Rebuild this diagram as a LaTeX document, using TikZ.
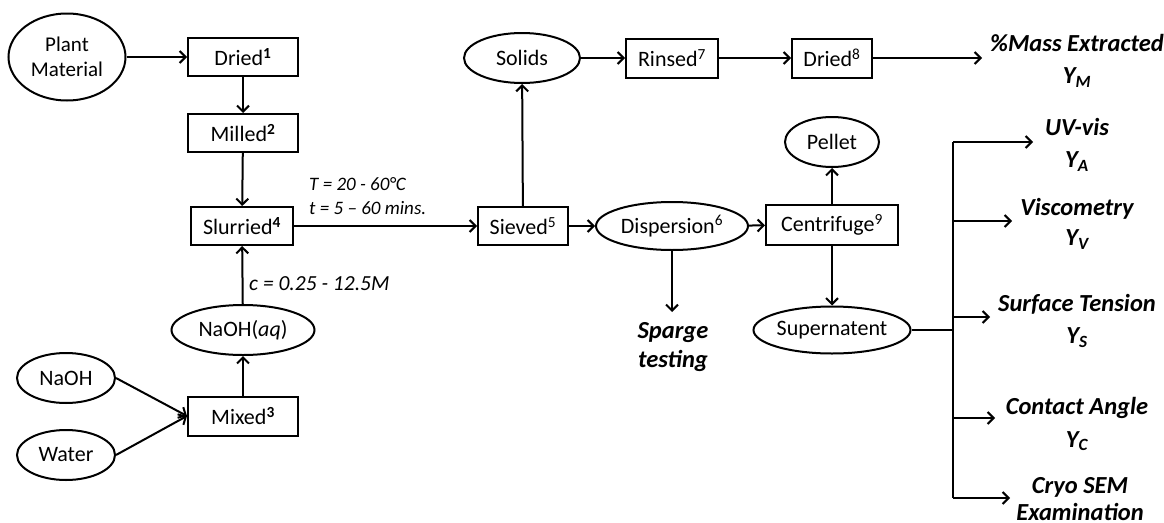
\documentclass[tikz,border=0pt]{standalone}
\usepackage{fontspec}
\setmainfont{Carlito}
\usetikzlibrary{shapes.geometric,arrows.meta}
\begin{document}
\begin{tikzpicture}[x=1pt,y=-1pt,
 every node/.style={font=\fontsize{22}{25}\selectfont, inner sep=0pt, align=center},
 box/.style={draw, line width=2pt, rectangle, minimum height=38pt},
 ell/.style={draw, line width=2pt, ellipse},
 flow/.style={line width=2pt, -{Straight Barb[length=6pt,width=12pt,line width=2pt]}},
 plain/.style={line width=2pt},
 res/.style={font=\fontsize{24.5}{32}\selectfont\bfseries\itshape},
 cond/.style={font=\fontsize{19}{24}\selectfont\itshape, anchor=west, align=left}]
\useasboundingbox (0,0) rectangle (1164,522);
% nodes
\node[ell, minimum width=117pt, minimum height=87pt, font=\fontsize{21}{25}\selectfont] (plant) at (67,57) {Plant\\Material};
\node[box, minimum width=110pt] (dried1) at (243,57) {Dried\textsuperscript{\textbf{1}}};
\node[box, minimum width=110pt] (milled) at (243,133) {Milled\textsuperscript{\textbf{2}}};
\node[box, minimum width=102pt] (slurried) at (242,226) {Slurried\textsuperscript{\textbf{4}}};
\node[ell, minimum width=143pt, minimum height=50pt] (naohaq) at (243,330) {NaOH(\textit{aq})};
\node[ell, minimum width=98pt, minimum height=50pt] (naoh) at (66,378) {NaOH};
\node[ell, minimum width=98pt, minimum height=50pt] (water) at (66,455) {Water};
\node[box, minimum width=110pt, minimum height=39pt] (mixed) at (243,416) {Mixed\textsuperscript{\textbf{3}}};
\node[ell, minimum width=116pt, minimum height=50pt] (solids) at (522,58) {Solids};
\node[box, minimum width=92pt, minimum height=39pt] (rinsed) at (672,58) {Rinsed\textsuperscript{7}};
\node[box, minimum width=80pt, minimum height=39pt] (dried8) at (832,58) {Dried\textsuperscript{8}};
\node[box, minimum width=90pt] (sieved) at (523,226) {Sieved\textsuperscript{5}};
\node[ell, minimum width=152pt, minimum height=48pt] (disp) at (672,226) {Dispersion\textsuperscript{6}};
\node[box, minimum width=132pt, minimum height=40pt] (centri) at (832,225) {Centrifuge\textsuperscript{9}};
\node[ell, minimum width=94pt, minimum height=50pt] (pellet) at (832,142) {Pellet};
\node[ell, minimum width=157pt, minimum height=47pt] (super) at (832,330) {Supernatent};
% results
\node[res] (mass) at (1077,61) {\%Mass Extracted\\Y\textsubscript{M}};
\node[res] (uv) at (1077,145) {UV-vis\\Y\textsubscript{A}};
\node[res, font=\fontsize{24.5}{30}\selectfont\bfseries\itshape] (visc) at (1077,224) {Viscometry\\Y\textsubscript{V}};
\node[res] (surf) at (1077,321) {Surface Tension\\Y\textsubscript{S}};
\node[res, font=\fontsize{24.5}{33}\selectfont\bfseries\itshape] (cont) at (1077,424) {Contact Angle\\Y\textsubscript{C}};
\node[res, font=\fontsize{24.5}{27}\selectfont\bfseries\itshape] (cryo) at (1080,499) {Cryo SEM\\Examination};
\node[res, font=\fontsize{24.5}{29}\selectfont\bfseries\itshape] (sparge) at (673,347) {Sparge\\testing};
% conditions
\node[cond] (tcond) at (309,196) {T = 20 - 60°C\\t = 5 -- 60 mins.};
\node[cond, font=\fontsize{21.5}{24}\selectfont\itshape] (ccond) at (249,284) {c = 0.25 - 12.5M};
% coordinates
\coordinate (massend) at (982,58);
\coordinate (spargeend) at (672,312);
\coordinate (bus) at (953,330);
\coordinate (btop) at (953,142);
\coordinate (bbot) at (953,498);
\coordinate (uvend) at (1033,142);
\coordinate (viscend) at (1012,221);
\coordinate (surfend) at (990,317);
\coordinate (contend) at (995,418);
\coordinate (cryoend) at (1010,498);
\coordinate (bv) at (953,221);
\coordinate (bs) at (953,317);
\coordinate (bc) at (953,418);
% connectors
\draw[flow] (plant) -- (dried1);
\draw[flow] (dried1) -- (milled);
\draw[flow] (milled) -- (slurried);
\draw[flow] (naohaq) -- (slurried);
\draw[flow] (mixed) -- (naohaq);
\draw[flow] (naoh.east) -- (mixed.west);
\draw[flow] (water.east) -- (mixed.west);
\draw[flow] (slurried) -- (sieved);
\draw[flow] (sieved) -- (solids);
\draw[flow] (solids) -- (rinsed);
\draw[flow] (rinsed) -- (dried8);
\draw[flow] (dried8) -- (massend);
\draw[flow] (sieved) -- (disp);
\draw[flow] (disp) -- (centri);
\draw[flow] (disp) -- (spargeend);
\draw[flow] (centri) -- (pellet);
\draw[flow] (centri) -- (super);
\draw[plain] (super) -- (bus);
\draw[plain] (btop) -- (bbot);
\draw[flow] (btop) -- (uvend);
\draw[flow] (bv) -- (viscend);
\draw[flow] (bs) -- (surfend);
\draw[flow] (bc) -- (contend);
\draw[flow] (bbot) -- (cryoend);
\end{tikzpicture}
\end{document}
